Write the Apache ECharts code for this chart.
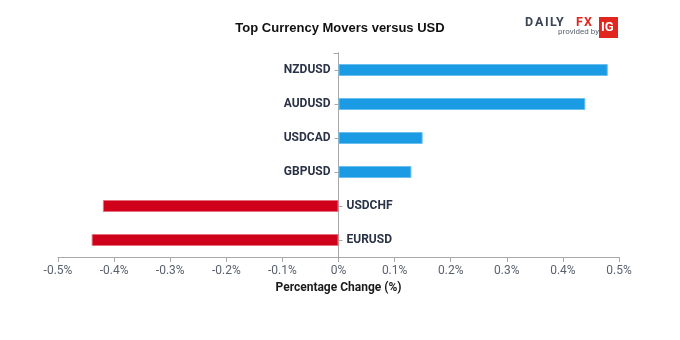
<!DOCTYPE html>
<html>
<head>
<meta charset="utf-8">
<script src="https://cdn.jsdelivr.net/npm/echarts@6/dist/echarts.min.js"></script>
<style>
  html, body { margin: 0; padding: 0; background: #ffffff; }
  #chart { width: 680px; height: 340px; }
</style>
</head>
<body>
<div id="chart"></div>
<script>
// Currency pairs, top to bottom, and their percentage moves against USD
const pairs = ['NZDUSD', 'AUDUSD', 'USDCAD', 'GBPUSD', 'USDCHF', 'EURUSD'];
const changes = [0.48, 0.44, 0.15, 0.13, -0.42, -0.44];
const xTicks = [-0.5, -0.4, -0.3, -0.2, -0.1, 0, 0.1, 0.2, 0.3, 0.4, 0.5];

const UP = '#1b9be3', UP_EDGE = '#6cc0f0';
const DOWN = '#d0021b', DOWN_EDGE = '#e7707e';
const AXIS = '#a8a8a8';
const LABEL = '#2a3346';

const chart = echarts.init(document.getElementById('chart'), null, { renderer: 'canvas' });

const isUp = name => changes[pairs.indexOf(name)] >= 0;

const catAxisBase = {
  type: 'category',
  data: pairs,
  inverse: true,
  axisLine: { show: true, onZero: true, onZeroAxisIndex: 0, lineStyle: { color: AXIS, width: 1 } },
  axisLabel: { show: false },
  splitLine: { show: false }
};

// small wordmark in the top-right corner
const brandLetters = [
  ['D', 525, '#3d4454'], ['A', 535, '#3d4454'], ['I', 545, '#3d4454'],
  ['L', 550, '#3d4454'], ['Y', 556, '#3d4454'], ['F', 576, '#e0261f'], ['X', 584, '#e0261f']
];
const brand = brandLetters.map(([t, x, c]) => ({
  type: 'text', x: x, y: 16,
  style: { text: t, fontFamily: 'Roboto, sans-serif', fontWeight: 'bold', fontSize: 12.5, fill: c }
}));

chart.setOption({
  animation: false,
  title: {
    text: 'Top Currency Movers versus USD',
    left: 'center',
    top: 17,
    textStyle: { fontFamily: 'Liberation Sans, Arial, sans-serif', fontWeight: 'bold', fontSize: 13, color: '#111111' }
  },
  grid: { left: 58, right: 61, top: 53, bottom: 83 },
  xAxis: {
    type: 'value',
    min: xTicks[0],
    max: xTicks[xTicks.length - 1],
    interval: 0.1,
    axisLine: { show: true, onZero: false, lineStyle: { color: AXIS, width: 1 } },
    axisTick: { show: true, length: 5, lineStyle: { color: AXIS } },
    splitLine: { show: false },
    axisLabel: {
      margin: 8,
      color: '#5a6270',
      fontFamily: 'Roboto, sans-serif',
      fontSize: 12,
      formatter: v => (Math.round(v * 10) / 10) + '%'
    },
    name: 'Percentage Change (%)',
    nameLocation: 'middle',
    nameGap: 25,
    nameTextStyle: { fontFamily: 'Roboto, sans-serif', fontWeight: 'bold', fontSize: 12, color: '#1a1a1a' }
  },
  yAxis: [
    Object.assign({}, catAxisBase, {
      // ticks on the left of zero for gainers
      axisTick: { show: true, alignWithLabel: true, length: 4, inside: false, lineStyle: { color: AXIS },
        interval: (i, name) => isUp(name) }
    }),
    Object.assign({}, catAxisBase, {
      // ticks on the right of zero for decliners
      position: 'left',
      axisTick: { show: true, alignWithLabel: true, length: 4, inside: true, lineStyle: { color: AXIS },
        interval: (i, name) => !isUp(name) }
    }),
    Object.assign({}, catAxisBase, {
      // cap tick at the top end of the zero line
      position: 'left',
      axisLine: { show: false, onZero: true, onZeroAxisIndex: 0 },
      axisTick: { show: true, alignWithLabel: false, length: 5, inside: false, lineStyle: { color: AXIS },
        interval: i => i === 0 }
    })
  ],
  series: [{
    type: 'bar',
    yAxisIndex: 0,
    barWidth: 12,
    data: changes.map(v => ({
      value: v,
      itemStyle: {
        color: v >= 0 ? UP : DOWN,
        borderColor: v >= 0 ? UP_EDGE : DOWN_EDGE,
        borderWidth: 1
      },
      label: { position: v >= 0 ? 'left' : 'right' }
    })),
    label: {
      show: true,
      distance: 8,
      formatter: p => p.name,
      fontFamily: 'Roboto, sans-serif',
      fontWeight: 'bold',
      fontSize: 12,
      color: LABEL
    },
    z: 1
  }],
  graphic: brand.concat([
    {
      type: 'text', x: 558, y: 28,
      style: { text: 'provided by', fontFamily: 'Roboto, sans-serif', fontSize: 8, fill: '#5a6270' }
    },
    {
      type: 'rect', shape: { x: 599, y: 17, width: 19, height: 21 },
      style: { fill: '#e0261f' }
    },
    {
      type: 'text', x: 601, y: 21,
      style: { text: 'IG', fontFamily: 'Roboto, sans-serif', fontWeight: 'bold', fontSize: 13, fill: '#ffffff' }
    }
  ])
});
</script>
</body>
</html>
